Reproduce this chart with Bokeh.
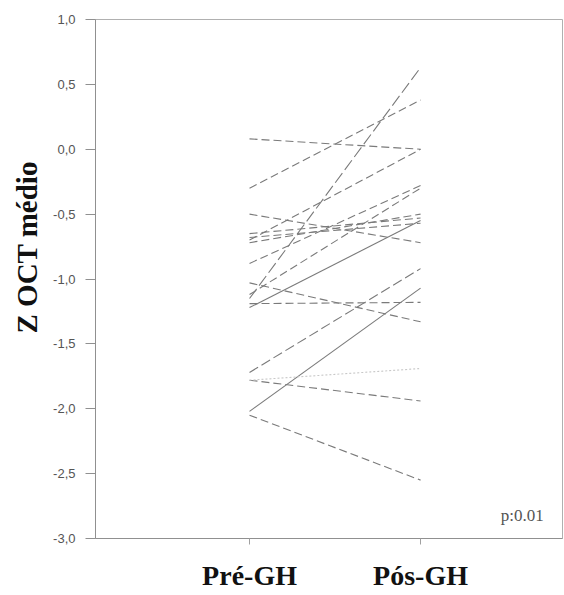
from bokeh.plotting import figure
from bokeh.models import FixedTicker, Range1d, Label, Title
from bokeh.embed import file_html
from bokeh.resources import INLINE

# Data: paired values (Pré-GH -> Pós-GH)
groups = ["Pré-GH", "Pós-GH"]
pre = [0.08, -0.30, -1.15, -0.50, -0.70, -0.88, -0.65, -0.68, -0.72, -1.03,
       -1.19, -1.22, -1.72, -1.78, -2.02, -2.05, -1.78, -1.12]
pos = [0.00, 0.38, 0.63, -0.72, 0.00, -0.28, -0.53, -0.57, -0.50, -1.33,
       -1.18, -0.55, -0.92, -1.94, -1.07, -2.55, -1.69, -0.30]
y_ticks = [-3.0, -2.5, -2.0, -1.5, -1.0, -0.5, 0.0, 0.5, 1.0]
y_title = "Z OCT médio"
p_text = "p:0.01"

# styles (separate from data)
dashes = ["8 4", "8 4", "12 4", "8 4", "8 4", "8 4", "8 4", "8 4", "8 4", "8 4",
          "8 4", "solid", "10 4", "8 4", "solid", "8 4", "2 2", "8 4"]
colors = ["#7a7a7a"] * len(pre)
colors[16] = "#c8c8c8"

p = figure(width=563, height=594, output_backend="svg", toolbar_location=None,
           x_range=Range1d(0.0994, 2.83), y_range=Range1d(-3.0, 1.0),
           min_border_left=95, min_border_top=19, min_border_right=1, min_border_bottom=56)
p.grid.visible = False
p.outline_line_color = "#b0b0b0"
p.outline_line_width = 1

xs = [1, 2]
for i in range(len(pre)):
    p.line(xs, [pre[i], pos[i]], line_color=colors[i], line_width=1.1,
           line_dash=dashes[i])

# y axis
p.yaxis.ticker = FixedTicker(ticks=y_ticks)
p.yaxis.major_label_overrides = {t: f"{t:.1f}".replace(".", ",") for t in y_ticks}
p.yaxis.minor_tick_line_color = None
p.yaxis.major_tick_out = 10
p.yaxis.major_tick_in = 0
p.yaxis.major_tick_line_color = "#909090"
p.yaxis.axis_line_color = "#909090"
p.yaxis.major_label_text_font = "Liberation Sans"
p.yaxis.major_label_text_font_size = "13px"
p.yaxis.major_label_text_color = "#555555"
p.yaxis.major_label_standoff = 10

# y title, placed off-centre like the original
p.add_layout(Title(text=y_title, align="left", offset=205, standoff=16,
                   text_font="Liberation Serif", text_font_style="bold",
                   text_font_size="29px", text_color="#111111"), "left")

# x axis
p.xaxis.ticker = FixedTicker(ticks=[1, 2])
p.xaxis.major_label_overrides = {1: groups[0], 2: groups[1]}
p.xaxis.minor_tick_line_color = None
p.xaxis.major_tick_out = 6
p.xaxis.major_tick_in = 0
p.xaxis.major_tick_line_color = "#a0a0a0"
p.xaxis.axis_line_color = "#909090"
p.xaxis.major_label_text_font = "Liberation Serif"
p.xaxis.major_label_text_font_style = "bold"
p.xaxis.major_label_text_font_size = "28px"
p.xaxis.major_label_text_color = "#111111"
p.xaxis.major_label_standoff = 15

p.add_layout(Label(x=2.595, y=-2.82, text=p_text, text_font="Liberation Serif",
                   text_font_size="17px", text_color="#555555",
                   text_align="center", text_baseline="middle"))

open("out.html", "w").write(file_html(p, INLINE))
